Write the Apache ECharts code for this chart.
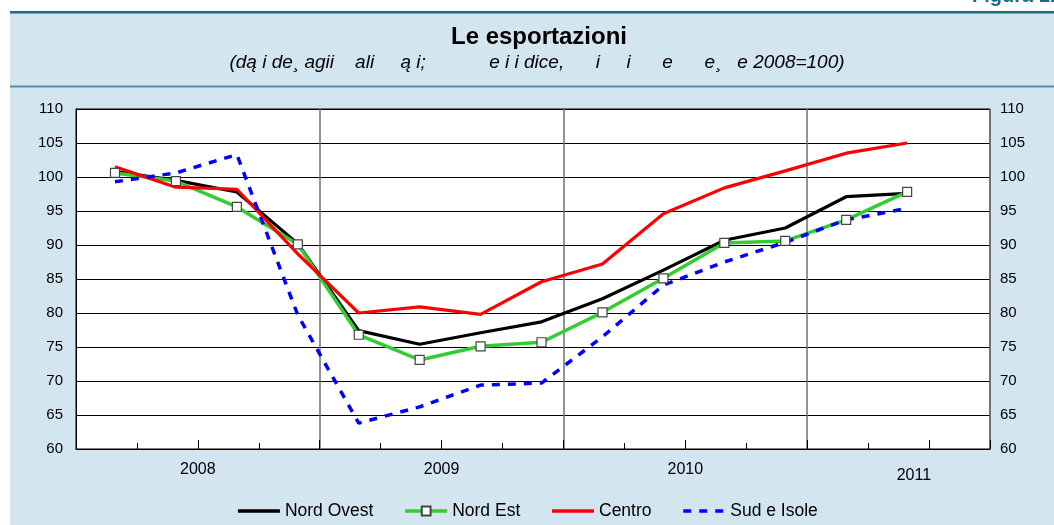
<!DOCTYPE html>
<html lang="it">
<head>
	<meta charset="UTF-8">
	<title>Le esportazioni</title>
	<script type="text/javascript" src="https://cdn.jsdelivr.net/npm/echarts@6/dist/echarts.min.js"></script>
	<style type="text/css">
		html,body{margin:0;padding:0;background:#fff;}
	</style>
</head>
<body>
	<div id="main" style="width:1054px;height:525px;"></div>

	<script>
		// trimestri (un punto per trimestre)
		var periodi = ['2008 T1','2008 T2','2008 T3','2008 T4','2009 T1','2009 T2','2009 T3','2009 T4',
			'2010 T1','2010 T2','2010 T3','2010 T4','2011 T1','2011 T2'];
		var nordOvest = [100.8, 99.5, 97.8, 90.2, 77.4, 75.4, 77.1, 78.7, 82.1, 86.3, 90.7, 92.5, 97.1, 97.6];
		var nordEst   = [100.6, 99.4, 95.6, 90.1, 76.8, 73.1, 75.1, 75.7, 80.1, 85.1, 90.3, 90.6, 93.7, 97.8];
		var centro    = [101.5, 98.5, 98.2, 88.7, 80.0, 80.9, 79.8, 84.6, 87.2, 94.6, 98.4, 100.9, 103.5, 105.0];
		var sudIsole  = [99.3, 100.6, 103.3, 79.7, 63.8, 66.2, 69.4, 69.7, 76.5, 84.1, 87.5, 90.4, 93.7, 95.4];
		var anni = ['2008', '2009', '2010', '2011'];
		var posAnni = [2, 6, 10, 13.75];   // dove stanno le etichette degli anni (in trimestri)

		var titolo = 'Le esportazioni';
		var sottotitolo = '(dą i de\u00b8 agii    ali     ą i;            e i i dice,      i     i      e      e\u00b8   e 2008=100)';

		function coppie(arr){
			var out = [];
			for(var i = 0; i < arr.length; i++){
				out.push([i + 0.64, arr[i]]);   // punto dentro il trimestre
			}
			return out;
		}

		var font = '"Liberation Sans", Arial';
		var chart = echarts.init(document.getElementById('main'));
		var option = {
			animation: false,
			backgroundColor: '#fff',
			graphic: [
				{type: 'rect', shape: {x: 10, y: 12, width: 1044, height: 513}, style: {fill: '#d3e5ef'}, z: -10},
				{type: 'rect', shape: {x: 10, y: 11, width: 1044, height: 2.5}, style: {fill: '#1d6a8a'}, z: -9},
				{type: 'rect', shape: {x: 10, y: 85.5, width: 1044, height: 2}, style: {fill: '#4a92b2'}, z: -9},
				{type: 'text', x: 972, y: 6, style: {text: 'Figura 1.', font: 'bold 20px ' + font, fill: '#1d6a8a', textVerticalAlign: 'bottom'}},
				{type: 'text', x: 539, y: 37, style: {text: titolo, font: 'bold 24px ' + font, fill: '#000', textAlign: 'center', textVerticalAlign: 'middle'}},
				{type: 'text', x: 537, y: 63, style: {text: sottotitolo, font: 'italic 19px ' + font, fill: '#000', textAlign: 'center', textVerticalAlign: 'middle'}}
			],
			grid: {
				left: 76, right: 64, top: 109, bottom: 76,
				show: true, backgroundColor: '#fff', borderColor: '#000', borderWidth: 1
			},
			legend: {
				top: 497,
				left: 'center',
				itemWidth: 42,
				itemHeight: 11,
				itemGap: 30,
				lineStyle: {width: 3.5},
				textStyle: {fontSize: 17.5, color: '#000', fontFamily: font},
				data: [
					{name: 'Nord Ovest', itemStyle: {opacity: 0}},
					{name: 'Nord Est'},
					{name: 'Centro', itemStyle: {opacity: 0}},
					{name: 'Sud e Isole', itemStyle: {opacity: 0}}
				]
			},
			xAxis: [
				{   // tacche trimestrali
					type: 'value', min: 0, max: 15, interval: 1,
					axisLine: {lineStyle: {color: '#000', width: 1}},
					axisTick: {inside: true, length: 6, lineStyle: {color: '#000'}},
					axisLabel: {show: false},
					splitLine: {show: false}
				},
				{   // tacche semestrali piu lunghe
					type: 'value', min: 0, max: 15, interval: 2, position: 'bottom',
					axisLine: {show: false},
					axisTick: {inside: true, length: 9, lineStyle: {color: '#000'}},
					axisLabel: {show: false},
					splitLine: {show: false}
				},
				{   // etichette degli anni
					type: 'value', min: 0, max: 15, interval: 0.25, position: 'bottom',
					axisLine: {show: false},
					axisTick: {show: false},
					axisLabel: {
						show: true, interval: 0, margin: 13,
						fontSize: 16, color: '#000', fontFamily: font,
						showMinLabel: true, showMaxLabel: true,
						formatter: function(v){
							var i = posAnni.indexOf(v);
							if(i < 0) return '';
							return i === 3 ? '{b|' + anni[i] + '}' : anni[i];
						},
						rich: {b: {fontSize: 16, color: '#000', padding: [6, 0, 0, 0], fontFamily: font}}
					},
					splitLine: {show: false}
				},
				{   // separatori degli anni
					type: 'value', min: 0, max: 15, interval: 4, position: 'bottom',
					axisLine: {show: false},
					axisTick: {show: false},
					axisLabel: {show: false},
					splitLine: {show: true, lineStyle: {color: '#6f6f6f', width: 1.5}}
				}
			],
			yAxis: [
				{
					type: 'value', min: 60, max: 110, interval: 5, position: 'left',
					axisLine: {show: true, lineStyle: {color: '#000'}},
					axisTick: {show: false},
					axisLabel: {fontSize: 15, color: '#000', margin: 13, fontFamily: font},
					splitLine: {show: true, lineStyle: {color: '#000', width: 1}}
				},
				{
					type: 'value', min: 60, max: 110, interval: 5, position: 'right',
					axisLine: {show: true, lineStyle: {color: '#000'}},
					axisTick: {show: false},
					axisLabel: {fontSize: 15, color: '#000', margin: 10, fontFamily: font},
					splitLine: {show: false}
				}
			],
			series: [
				{
					name: 'Nord Ovest', type: 'line', data: coppie(nordOvest),
					symbol: 'none', color: '#000',
					lineStyle: {color: '#000', width: 3.2}
				},
				{
					name: 'Nord Est', type: 'line', data: coppie(nordEst),
					symbol: 'rect', symbolSize: 9, showAllSymbol: true, color: '#33cc33',
					lineStyle: {color: '#33cc33', width: 3.5},
					itemStyle: {color: '#fff', borderColor: '#444', borderWidth: 1.2}
				},
				{
					name: 'Centro', type: 'line', data: coppie(centro),
					symbol: 'none', color: '#ff0000',
					lineStyle: {color: '#ff0000', width: 3.2}
				},
				{
					name: 'Sud e Isole', type: 'line', data: coppie(sudIsole),
					symbol: 'none', color: '#0000ff',
					lineStyle: {color: '#0000ff', width: 3.5, type: [8, 8]}
				}
			]
		};
		chart.setOption(option);
	</script>
</body>
</html>
